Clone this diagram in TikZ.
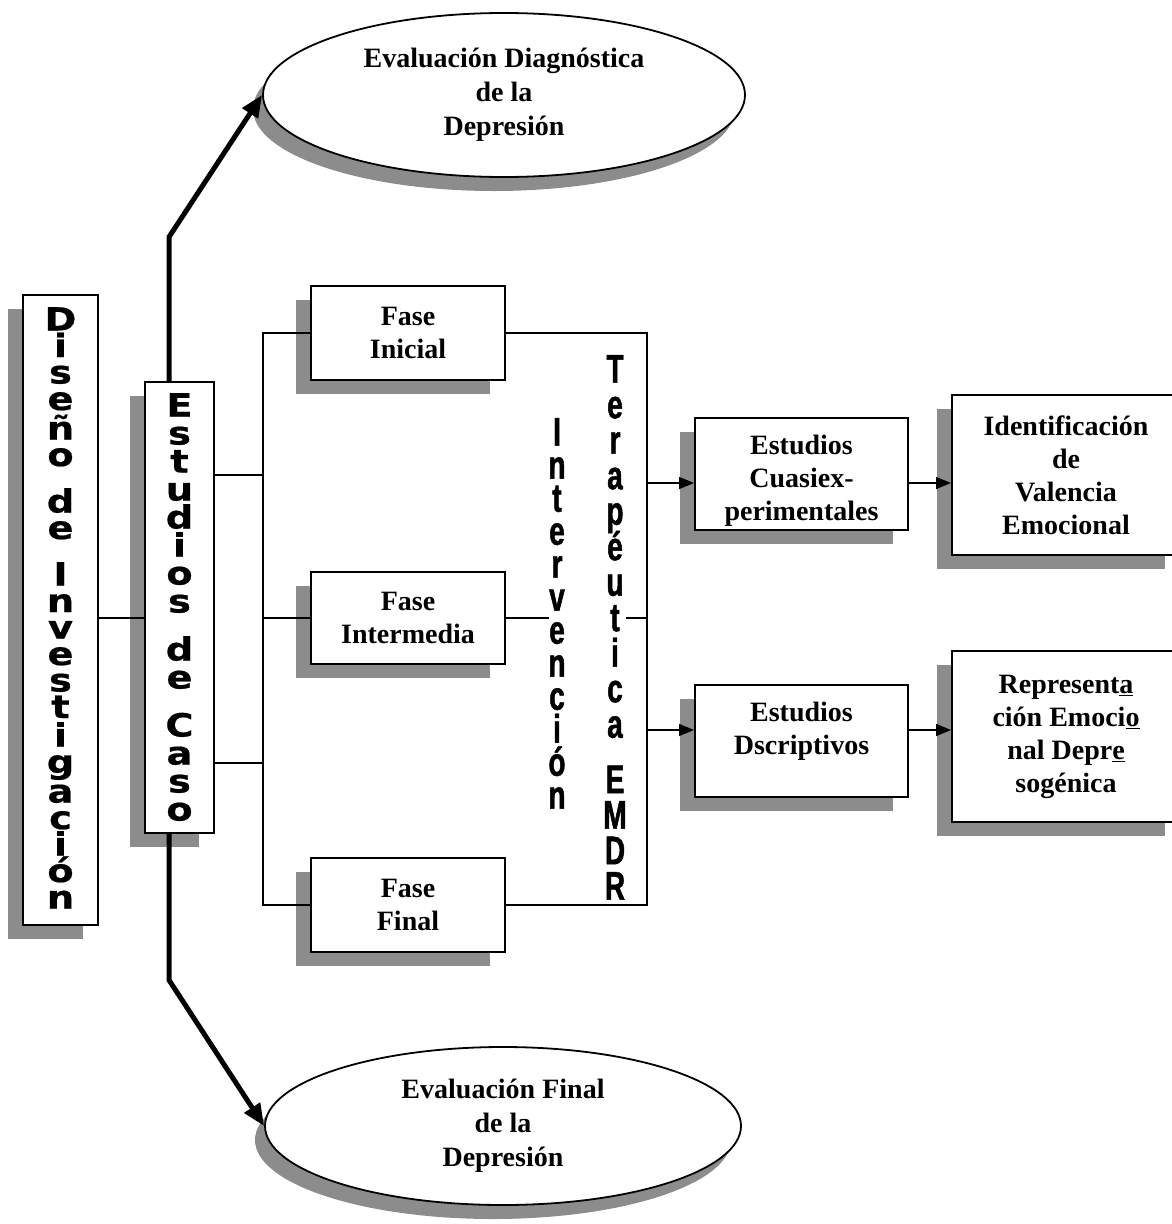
\documentclass[tikz,border=0pt]{standalone}
\usepackage{fontspec}
\setmainfont{Liberation Serif}
\newfontfamily\vsans[FakeStretch=1.2,FakeBold=0.6]{DejaVu Sans Bold}
\newfontfamily\vnarrow[FakeStretch=0.7,FakeBold=1.2]{Liberation Sans Bold}
\usetikzlibrary{shapes.geometric,shadows,arrows.meta}
\begin{document}
\begin{tikzpicture}[x=1pt,y=-1pt,
  boxshadow/.style={drop shadow={shadow xshift=-15pt,shadow yshift=-14pt,fill=black!45,opacity=1}},
  box/.style={draw,line width=2pt,fill=white,inner sep=0pt,align=center,
    font=\bfseries\fontsize{28}{33}\selectfont,boxshadow},
  boxtext/.style={inner sep=0pt,align=center,font=\bfseries\fontsize{28}{33}\selectfont},
  ell/.style={ellipse,draw,line width=1.8pt,fill=white,inner sep=0pt,align=center,
    font=\bfseries\fontsize{28}{34}\selectfont,
    drop shadow={shadow xshift=-10pt,shadow yshift=-14pt,fill=black!45,opacity=1}},
  vtxt/.style={inner sep=0pt,align=center,
    execute at begin node={\lineskiplimit=-100pt\lineskip=0pt}},
  bigsans/.style={vtxt,font=\vsans\fontsize{32}{26.5}\selectfont},
  narrowsans/.style={vtxt,font=\vnarrow\fontsize{40}{33}\selectfont},
  conn/.style={line width=1.5pt},
  smallarrow/.style={line width=1.5pt,-{Triangle[length=15pt,width=12pt]}},
  thickarrow/.style={line width=5pt,line join=miter,-{Triangle[length=22pt,width=18pt]}}
]
\useasboundingbox (0,0) rectangle (1172,1224);

% ellipses
\node[ell,minimum width=482pt,minimum height=164pt] (ed) at (504,95)
  {Evaluación Diagnóstica\\de la\\Depresión};
\node[ell,minimum width=476pt,minimum height=158pt] (ef) at (503,1126)
  {Evaluación Final\\de la\\Depresión};

% vertical boxes
\node[box,minimum width=75pt,minimum height=630pt] (dis) at (60.5,610) {};
\node[bigsans,anchor=north] (distxt) at (60.5,307)
  {D\\i\\s\\e\\[3pt]ñ\\o\\[20pt]d\\e\\[20pt]I\\n\\v\\e\\s\\t\\[2pt]i\\g\\[3pt]a\\c\\i\\ó\\n};
\node[box,minimum width=69pt,minimum height=451pt] (est) at (179.5,607.5) {};
\node[bigsans,anchor=north,font=\vsans\fontsize{32}{28}\selectfont] (esttxt) at (179.5,393)
  {E\\s\\t\\u\\d\\i\\o\\s\\[20pt]d\\e\\[20pt]C\\a\\s\\o};

% phase boxes
\node[box,minimum width=194pt,minimum height=94pt] (fi) at (408,333) {Fase\\Inicial};
\node[box,minimum width=194pt,minimum height=92pt] (fm) at (408,618) {Fase\\Intermedia};
\node[box,minimum width=194pt,minimum height=94pt] (ff) at (408,905) {Fase\\Final};

% intervention labels
\node[narrowsans,anchor=north] (intv) at (557,418)
  {I\\n\\t\\e\\r\\v\\e\\n\\c\\i\\ó\\n};
\node[narrowsans,anchor=north,font=\vnarrow\fontsize{40}{35.5}\selectfont] (tera) at (615,355)
  {T\\e\\r\\a\\p\\é\\u\\t\\i\\c\\a\\[20pt]E\\M\\D\\R};

% right boxes
\node[box,minimum width=213pt,minimum height=112pt] (cua) at (801.5,474) {};
\node[boxtext] (cuatxt) at (801.5,481) {Estudios\\Cuasiex-\\perimentales};
\node[box,minimum width=213pt,minimum height=112pt] (dsc) at (801.5,741) {};
\node[boxtext] (dsctxt) at (801.5,731) {Estudios\\Dscriptivos};
\node[box,minimum width=228pt,minimum height=160pt] (idv) at (1066,475)
  {Identificación\\de\\Valencia\\Emocional};
\node[box,minimum width=228pt,minimum height=171pt] (rep) at (1066,736.5)
  {Represent\underline{a}\\ción Emoci\underline{o}\\nal Depr\underline{e}\\sogénica};

% coordinates
\coordinate (d1) at (120,618);
\coordinate (lb) at (263,905);
\coordinate (e1) at (263,475);
\coordinate (e2) at (263,763);
\coordinate (rb) at (647,905);
\coordinate (ma) at (549,618);
\coordinate (mb) at (626,618);
\coordinate (mc) at (647,618);
\coordinate (c1) at (647,483);
\coordinate (c2) at (647,730);
\coordinate (tb) at (169,237);
\coordinate (bb) at (169,980);

% connectors
\draw[conn] (d1 -| dis.east) -- (d1 -| est.west);
\draw[conn] (e1 -| est.east) -- (e1);
\draw[conn] (e2 -| est.east) -- (e2);
\draw[conn] (fi.west) -| (lb) -- (ff.west);
\draw[conn] (fm.west) -- (fm.west -| lb);
\draw[conn] (fi.east) -| (rb) -- (ff.east);
\draw[conn] (fm.east) -- (ma);
\draw[conn] (mb) -- (mc);
\draw[smallarrow] (c1) -- (c1 -| cua.west);
\draw[smallarrow] (c2) -- (c2 -| dsc.west);
\draw[smallarrow] (c1 -| cua.east) -- (c1 -| idv.west);
\draw[smallarrow] (c2 -| dsc.east) -- (c2 -| rep.west);
\draw[thickarrow] (tb |- est.north) -- (tb) -- (ed.west);
\draw[thickarrow] (bb |- est.south) -- (bb) -- (ef.west);
\end{tikzpicture}
\end{document}
